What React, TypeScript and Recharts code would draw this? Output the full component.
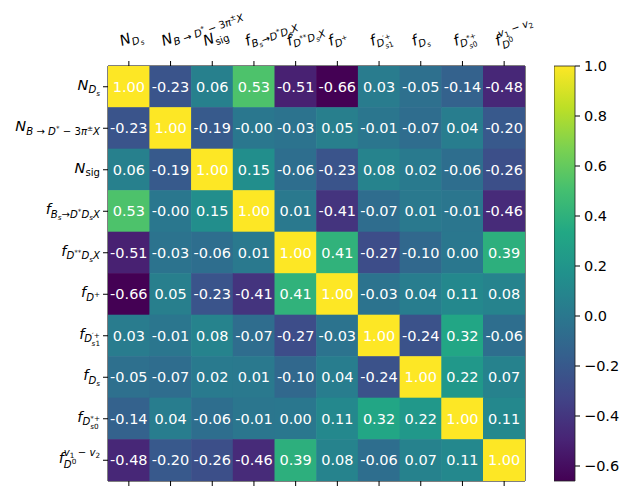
import React from 'react';
import { ScatterChart, Scatter, XAxis, YAxis, ComposedChart, ReferenceArea } from 'recharts';

// parameter names, written in a tiny TeX-like notation
const labels = [
  'N_{D_s}',
  'N_{B → D^{*} − 3π^{±}X}',
  'N_{\\mathrm{sig}}',
  'f_{B_s→D^{*}D_sX}',
  'f_{D^{**}D_sX}',
  'f_{D^+}',
  'f_{D^{′+}_{s1}}',
  'f_{D_s}',
  'f_{D^{*+}_{s0}}',
  'f^{v_1 − v_2}_{D^0}',
];

// correlation matrix, one row per parameter
const corr = [
  [1.0, -0.23, 0.06, 0.53, -0.51, -0.66, 0.03, -0.05, -0.14, -0.48],
  [-0.23, 1.0, -0.19, -0, -0.03, 0.05, -0.01, -0.07, 0.04, -0.2],
  [0.06, -0.19, 1.0, 0.15, -0.06, -0.23, 0.08, 0.02, -0.06, -0.26],
  [0.53, -0, 0.15, 1.0, 0.01, -0.41, -0.07, 0.01, -0.01, -0.46],
  [-0.51, -0.03, -0.06, 0.01, 1.0, 0.41, -0.27, -0.1, 0.0, 0.39],
  [-0.66, 0.05, -0.23, -0.41, 0.41, 1.0, -0.03, 0.04, 0.11, 0.08],
  [0.03, -0.01, 0.08, -0.07, -0.27, -0.03, 1.0, -0.24, 0.32, -0.06],
  [-0.05, -0.07, 0.02, 0.01, -0.1, 0.04, -0.24, 1.0, 0.22, 0.07],
  [-0.14, 0.04, -0.06, -0.01, 0.0, 0.11, 0.32, 0.22, 1.0, 0.11],
  [-0.48, -0.2, -0.26, -0.46, 0.39, 0.08, -0.06, 0.07, 0.11, 1.0],
];

const colorbarTicks = [-0.6, -0.4, -0.2, 0.0, 0.2, 0.4, 0.6, 0.8, 1.0];

const VMIN = -0.66;
const VMAX = 1.0;

const FONT = 'DejaVu Sans';
const FS = 14.5;

// layout of the matrix plot
const W = 624;
const H = 486;
const PLOT_L = 108;
const PLOT_T = 66;
const PLOT_R = 525;
const PLOT_B = 481;
const CELL_W = (PLOT_R - PLOT_L) / 10;
const CELL_H = (PLOT_B - PLOT_T) / 10;

const VIRIDIS = ['#440154', '#482475', '#414487', '#355f8d', '#2a788e', '#21918c', '#22a884', '#44bf70', '#7ad151', '#bddf26', '#fde725'];

const hex = (h: string) => [1, 3, 5].map((i) => parseInt(h.slice(i, i + 2), 16));

function viridis(v: number) {
  const t = Math.max(0, Math.min(1, (v - VMIN) / (VMAX - VMIN)));
  const p = t * 10;
  const i = Math.min(9, Math.floor(p));
  const f = p - i;
  const a = hex(VIRIDIS[i]);
  const b = hex(VIRIDIS[i + 1]);
  const c = a.map((x, k) => Math.round(x + (b[k] - x) * f));
  return `rgb(${c[0]},${c[1]},${c[2]})`;
}

const fmt = (v: number) => (v < 0 || Object.is(v, -0) ? '-' + Math.abs(v).toFixed(2) : v.toFixed(2));

const cells = corr.flatMap((row, y) => row.map((v, x) => ({ x, y, v })));

// --- minimal mathtext renderer ---
type Run = { s: string; lv: number; off: number; up: boolean; dx?: number };
const SIZES = [FS, FS * 0.7, FS * 0.5];
const SUB = [3.5, 2.5, 2];
const SUP = [7, 4, 3];

const charEm = (c: string) => {
  if (/[0-9]/.test(c)) return 0.636;
  if ('+±−→'.includes(c)) return 0.84;
  if (c === '*') return 0.5;
  if (c === '′') return 0.3;
  if (c === ' ') return 0.318;
  if ('DNB'.includes(c)) return 0.77;
  if (c === 's') return 0.52;
  return 0.6;
};
const runsWidth = (rs: Run[]) => rs.reduce((w, r) => w + [...r.s].reduce((a, c) => a + charEm(c), 0) * SIZES[r.lv], 0);

function readGroup(src: string, i: number): [string, number] {
  if (src[i] !== '{') return [src[i], i + 1];
  let depth = 1;
  let j = i + 1;
  while (depth) {
    if (src[j] === '{') depth++;
    else if (src[j] === '}') depth--;
    j++;
  }
  return [src.slice(i + 1, j - 1), j];
}

function tex(src: string, lv = 0, off = 0, upright = false): Run[] {
  const out: Run[] = [];
  let i = 0;
  while (i < src.length) {
    const c = src[i];
    if (src.startsWith('\\mathrm', i)) {
      const [g, j] = readGroup(src, i + 7);
      out.push(...tex(g, lv, off, true));
      i = j;
      continue;
    }
    if (c === '_' || c === '^') {
      const sc: Record<string, string> = {};
      while (src[i] === '_' || src[i] === '^') {
        const k = src[i];
        const [g, j] = readGroup(src, i + 1);
        sc[k] = g;
        i = j;
      }
      const nl = Math.min(lv + 1, 2);
      const both = sc['_'] !== undefined && sc['^'] !== undefined;
      const sub = sc['_'] !== undefined ? tex(sc['_'], nl, off + SUB[lv] + (both ? 1.5 : 0), upright) : [];
      const sup = sc['^'] !== undefined ? tex(sc['^'], nl, off - SUP[lv] - (both ? 0.5 : 0), upright) : [];
      if (both) {
        const [a, b] = runsWidth(sub) < runsWidth(sup) ? [sub, sup] : [sup, sub];
        b[0] = { ...b[0], dx: -runsWidth(a) };
        out.push(...a, ...b);
      } else out.push(...sub, ...sup);
      continue;
    }
    if (c === '{') {
      const [g, j] = readGroup(src, i);
      out.push(...tex(g, lv, off, upright));
      i = j;
      continue;
    }
    out.push({ s: c, lv, off, up: upright || !/[A-Za-zπ]/.test(c) });
    i++;
  }
  return out;
}

const MathText = ({ src, anchor, transform, x = 0, y = 0 }: any) => {
  const runs = tex(src);
  let prev = 0;
  return (
    <text x={x} y={y} textAnchor={anchor} transform={transform} fontFamily={FONT} fill="#000">
      {runs.map((r, i) => {
        const dy = r.off - prev;
        prev = r.off;
        return (
          <tspan key={i} dy={dy} dx={r.dx} fontSize={SIZES[r.lv]} fontStyle={r.up ? 'normal' : 'italic'}>
            {r.s === ' ' ? '\u00a0' : r.s}
          </tspan>
        );
      })}
    </text>
  );
};

const TopTick = (props: any) => {
  const { x, payload } = props;
  return <MathText src={labels[payload.value]} anchor="start" transform={`translate(${x - 7},${PLOT_T - 20}) rotate(-20)`} />;
};

const LeftTick = (props: any) => {
  const { y, payload } = props;
  return <MathText src={labels[payload.value]} anchor="end" x={PLOT_L - 8} y={y + 3} />;
};

const HeatCell = (props: any) => {
  const { cx, cy, payload } = props;
  return (
    <g>
      <rect x={cx - CELL_W / 2 - 0.3} y={cy - CELL_H / 2 - 0.3} width={CELL_W + 0.6} height={CELL_H + 0.6} fill={viridis(payload.v)} />
      <text x={cx} y={cy + 5.2} textAnchor="middle" fill="#fff" fontFamily={FONT} fontSize={FS}>
        {fmt(payload.v)}
      </text>
    </g>
  );
};

const idx = labels.map((_, i) => i);
const noTick = () => <g />;

export default function App() {
  return (
    <div style={{ position: 'absolute', left: 0, top: 0, width: W, height: H, background: '#fff' }}>
      <div style={{ position: 'absolute', left: 0, top: 0 }}>
        <ScatterChart width={W} height={H} margin={{ top: 0, right: 0, bottom: 0, left: 0 }}>
          <XAxis
            xAxisId="top"
            orientation="top"
            type="number"
            dataKey="x"
            domain={[-0.5, 9.5]}
            ticks={idx}
            interval={0}
            allowDataOverflow
            height={PLOT_T}
            tickSize={5}
            tick={<TopTick />}
            tickLine={{ stroke: '#000' }}
            axisLine={{ stroke: '#000' }}
          />
          <XAxis
            xAxisId="bottom"
            orientation="bottom"
            type="number"
            dataKey="x"
            domain={[-0.5, 9.5]}
            ticks={idx}
            interval={0}
            allowDataOverflow
            height={H - PLOT_B}
            tickSize={5}
            tick={noTick}
            tickLine={{ stroke: '#000' }}
            axisLine={{ stroke: '#000' }}
          />
          <YAxis
            yAxisId="left"
            orientation="left"
            type="number"
            dataKey="y"
            domain={[-0.5, 9.5]}
            reversed
            ticks={idx}
            interval={0}
            allowDataOverflow
            width={PLOT_L}
            tickSize={5}
            tick={<LeftTick />}
            tickLine={{ stroke: '#000' }}
            axisLine={{ stroke: '#000' }}
          />
          <YAxis
            yAxisId="right"
            orientation="right"
            type="number"
            domain={[-0.5, 9.5]}
            allowDataOverflow
            width={W - PLOT_R}
            tick={false}
            tickLine={false}
            axisLine={{ stroke: '#000' }}
          />
          <Scatter data={cells} xAxisId="top" yAxisId="left" shape={<HeatCell />} isAnimationActive={false} />
        </ScatterChart>
      </div>
      <div style={{ position: 'absolute', left: 554, top: 0 }}>
        <ComposedChart width={70} height={H} data={[{ x: 0, y: 0 }]} margin={{ top: PLOT_T, right: 0, bottom: H - PLOT_B, left: 0 }}>
          <defs>
            <linearGradient id="viridis" x1="0" y1="1" x2="0" y2="0">
              {VIRIDIS.map((c, i) => (
                <stop key={i} offset={`${i * 10}%`} stopColor={c} />
              ))}
            </linearGradient>
          </defs>
          <XAxis type="number" dataKey="x" domain={[0, 1]} hide height={0} />
          <YAxis
            type="number"
            orientation="right"
            domain={[VMIN, VMAX]}
            ticks={colorbarTicks}
            interval={0}
            allowDataOverflow
            width={49}
            tickSize={5}
            tickMargin={4}
            axisLine={false}
            tickLine={{ stroke: '#000' }}
            tick={{ fill: '#000', fontSize: FS, fontFamily: FONT }}
            tickFormatter={(v: number) => (v < 0 ? '−' : '') + Math.abs(v).toFixed(1)}
          />
          <ReferenceArea y1={VMIN} y2={VMAX} fill="url(#viridis)" fillOpacity={1} stroke="#222" strokeWidth={0.8} />
        </ComposedChart>
      </div>
    </div>
  );
}
